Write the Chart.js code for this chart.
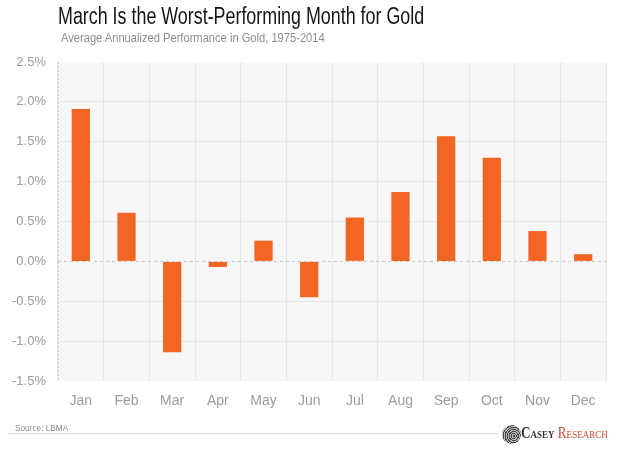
<!DOCTYPE html>
<html>
<head>
<meta charset="utf-8">
<script src="https://cdn.jsdelivr.net/npm/chart.js@4"></script>
<style>
  html, body { margin: 0; padding: 0; background: #fff; }
  #wrap { position: relative; width: 624px; height: 451px; overflow: hidden; font-family: "Liberation Sans", Arial, sans-serif; }
  #chart { position: absolute; left: 0; top: 0; }
  .fit { position: absolute; white-space: nowrap; transform-origin: 0 0; }
  .title { left: 58px; top: 5px; font-size: 23px; line-height: 23px; color: #151515; }
  .subtitle { left: 61px; top: 31px; font-size: 13px; line-height: 13px; color: #8e8e8e; }
  .source { left: 15px; top: 423px; font-size: 9.5px; line-height: 9.5px; color: #8a8a8a; }
  .rule { position: absolute; left: 8px; top: 433px; width: 490px; height: 1px; background: #d4d4d4; }
  .mark { position: absolute; left: 502px; top: 425px; width: 19px; height: 19px; border-radius: 50%;
    background: repeating-radial-gradient(circle at 62% 58%, #4a4a4a 0 1px, #b5b5b5 1px 2px); }
  .logo { left: 521px; top: 425px; font-family: "Liberation Serif", "DejaVu Serif", serif; font-size: 16px; line-height: 16px; font-variant: small-caps; font-weight: bold; }
  .logo .c { color: #333; }
  .logo .r { color: #d24a2c; font-weight: normal; }
</style>
</head>
<body>
<div id="wrap">
  <canvas id="chart" width="624" height="451"></canvas>
  <div class="fit title" data-w="366">March Is the Worst-Performing Month for Gold</div>
  <div class="fit subtitle" data-w="264">Average Annualized Performance in Gold, 1975-2014</div>
  <div class="fit source" data-w="53">Source: LBMA</div>
  <div class="rule"></div>
  <div class="mark"></div>
  <div class="fit logo" data-w="87"><span class="c">Casey</span> <span class="r">Research</span></div>
</div>
<script>
// monthly average annualized gold performance, in %
var months = ['Jan', 'Feb', 'Mar', 'Apr', 'May', 'Jun', 'Jul', 'Aug', 'Sep', 'Oct', 'Nov', 'Dec'];
var performance = [1.91, 0.61, -1.14, -0.07, 0.26, -0.45, 0.55, 0.87, 1.57, 1.30, 0.38, 0.09];
var yTicks = [-1.5, -1.0, -0.5, 0.0, 0.5, 1.0, 1.5, 2.0, 2.5];

// squeeze the header / footer texts horizontally to the reference widths
document.querySelectorAll('.fit').forEach(function(el) {
  var w = +el.getAttribute('data-w');
  el.style.transform = 'scaleX(' + (w / el.offsetWidth) + ')';
});

var tickFont = { family: '"Liberation Sans", Arial, sans-serif', size: 13 };

// light grey plot background, dotted left edge and dashed zero line
var plotBackground = {
  id: 'plotBackground',
  beforeDraw: function(chart) {
    var a = chart.chartArea, ctx = chart.ctx;
    ctx.save();
    ctx.fillStyle = '#f7f7f7';
    ctx.fillRect(a.left, a.top, a.right - a.left, a.bottom - a.top);
    ctx.strokeStyle = '#d0d0d0';
    ctx.setLineDash([2, 2]);
    ctx.beginPath();
    ctx.moveTo(a.left + 0.5, a.top);
    ctx.lineTo(a.left + 0.5, a.bottom);
    ctx.stroke();
    ctx.restore();
  },
  afterDatasetsDraw: function(chart) {
    var a = chart.chartArea, ctx = chart.ctx;
    var y0 = Math.round(chart.scales.y.getPixelForValue(0)) + 0.5;
    ctx.save();
    ctx.strokeStyle = '#c8c8c8';
    ctx.lineWidth = 1;
    ctx.setLineDash([3, 3]);
    ctx.beginPath();
    ctx.moveTo(a.left, y0);
    ctx.lineTo(a.right, y0);
    ctx.stroke();
    ctx.restore();
  }
};

new Chart(document.getElementById('chart').getContext('2d'), {
  type: 'bar',
  data: {
    labels: months,
    datasets: [{
      data: performance,
      backgroundColor: '#f26522',
      barPercentage: 0.4,
      categoryPercentage: 1.0
    }]
  },
  options: {
    responsive: false,
    animation: false,
    layout: { padding: { top: 62, right: 18, bottom: 0, left: 0 } },
    plugins: { legend: { display: false }, tooltip: { enabled: false } },
    scales: {
      x: {
        grid: { color: '#e6e6e6', drawTicks: false, offset: true },
        border: { display: false },
        ticks: { color: '#9c9c9c', font: { family: tickFont.family, size: 14 }, padding: 12 },
        afterFit: function(scale) { scale.height = 70; }
      },
      y: {
        min: -1.5,
        max: 2.5,
        afterBuildTicks: function(scale) {
          scale.ticks = yTicks.map(function(v) { return { value: v }; });
        },
        grid: {
          drawTicks: false,
          color: function(ctx) {
            var v = ctx.tick ? ctx.tick.value : null;
            if (v === 0 || v === 2.5 || v === -1.5) return 'rgba(0,0,0,0)';
            return '#e6e6e6';
          }
        },
        border: { display: false },
        ticks: {
          color: '#9c9c9c',
          font: tickFont,
          padding: 12,
          callback: function(v) { return v.toFixed(1) + '%'; }
        },
        afterFit: function(scale) { scale.width = 58; }
      }
    }
  },
  plugins: [plotBackground]
});
</script>
</body>
</html>
